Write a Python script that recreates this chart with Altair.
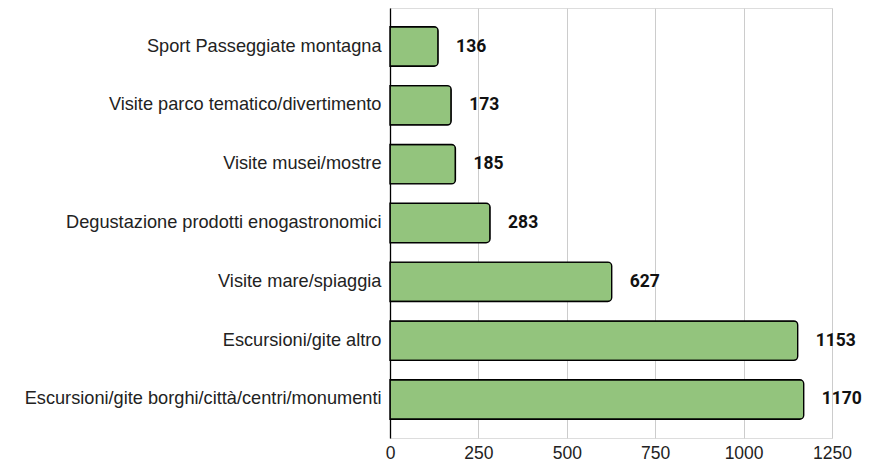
import altair as alt
import pandas as pd

categories = [
    "Sport Passeggiate montagna",
    "Visite parco tematico/divertimento",
    "Visite musei/mostre",
    "Degustazione prodotti enogastronomici",
    "Visite mare/spiaggia",
    "Escursioni/gite altro",
    "Escursioni/gite borghi/città/centri/monumenti",
]
values = [136, 173, 185, 283, 627, 1153, 1170]
x_ticks = [0, 250, 500, 750, 1000, 1250]

df = pd.DataFrame({"cat": categories, "val": values})

y_enc = alt.Y(
    "cat:N",
    sort=categories,
    title=None,
    scale=alt.Scale(paddingInner=0.33, paddingOuter=0.32),
    axis=alt.Axis(
        labelFont="Liberation Sans", labelFontSize=18.2, labelColor="#222222",
        labelPadding=9, ticks=False, domainColor="#000000", domainWidth=1.3,
        labelLimit=400,
    ),
)
x_enc = alt.X(
    "val:Q",
    title=None,
    scale=alt.Scale(domain=[0, 1250], nice=False),
    axis=alt.Axis(
        values=x_ticks, format="d", labelFont="Liberation Sans", labelFontSize=17.5,
        labelColor="#222222", labelPadding=6, ticks=False, domain=False,
        grid=True, gridColor="#cccccc", gridWidth=1, labelFlush=False,
    ),
)

bars = alt.Chart(df).mark_bar(
    color="#93c47d", stroke="#000000", strokeWidth=1.4, cornerRadiusEnd=4
).encode(x=x_enc, y=y_enc)

labels = alt.Chart(df).mark_text(
    align="left", baseline="middle", dx=18, font="Roboto", fontSize=17.5,
    fontWeight="bold", color="#111111",
).encode(x="val:Q", y=alt.Y("cat:N", sort=categories), text="val:Q")

chart = (
    alt.layer(bars, labels)
    .properties(
        width=442, height=430,
        autosize=alt.AutoSizeParams(type="none"),
        padding={"left": 382, "top": 0, "right": 37, "bottom": 25},
    )
    .configure_view(stroke=None)
    .configure(background="white")
)

chart.save("out.html", embed_options={"renderer": "svg", "actions": False})
